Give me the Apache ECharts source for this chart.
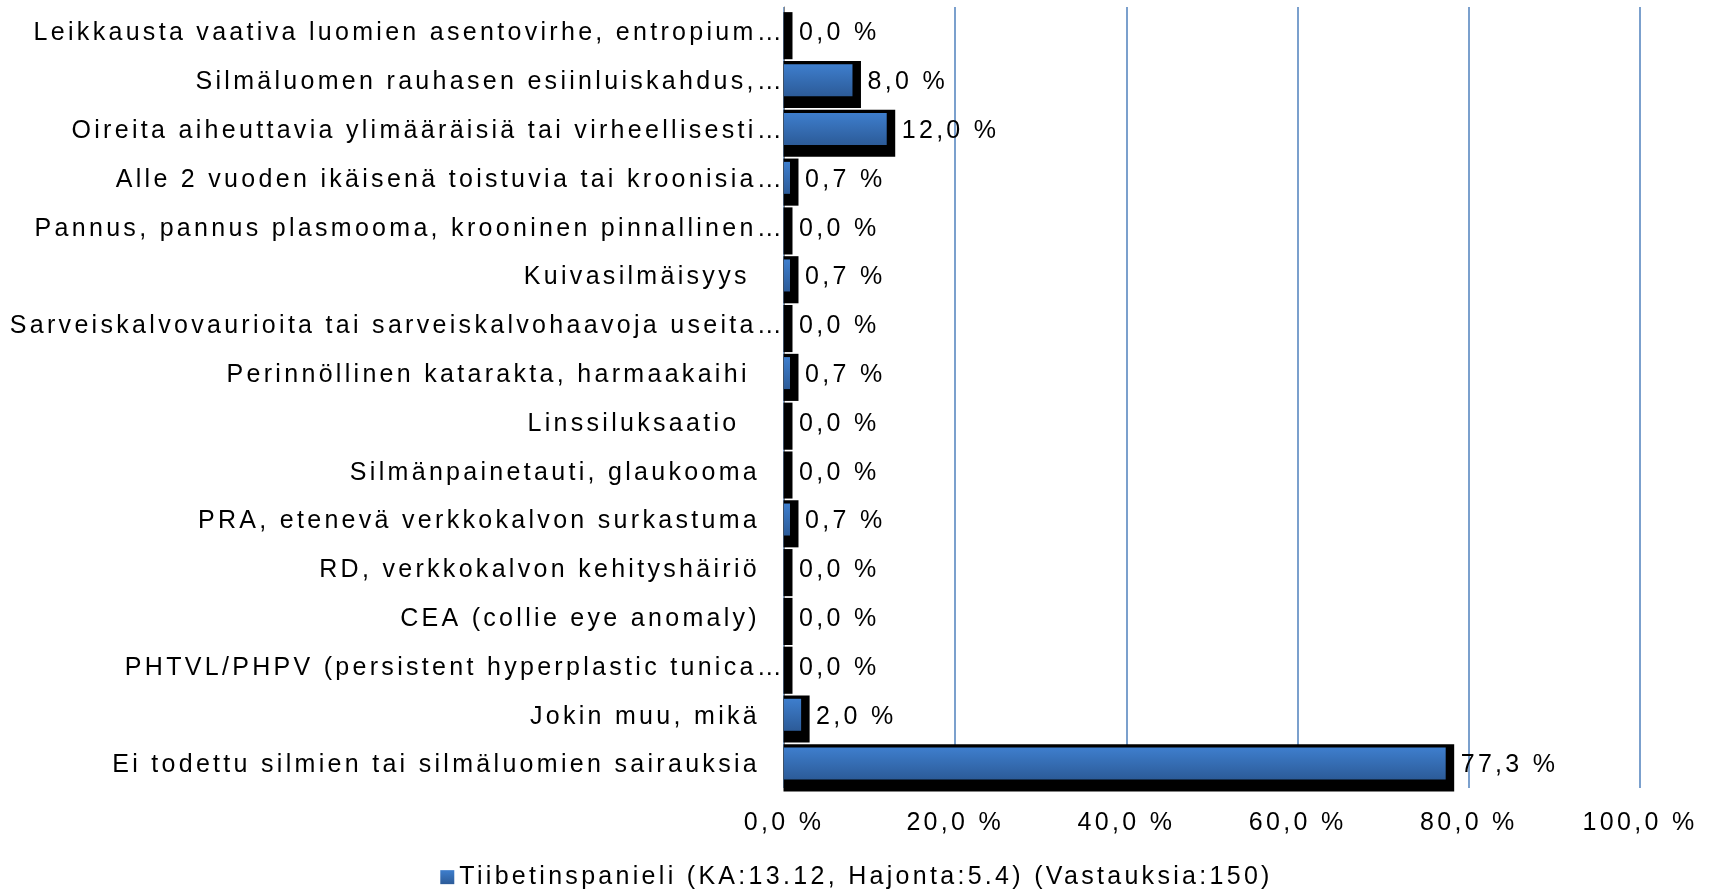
<!DOCTYPE html>
<html>
<head>
<meta charset="utf-8">
<script src="https://cdn.jsdelivr.net/npm/echarts@6/dist/echarts.min.js"></script>
<style>
html,body{margin:0;padding:0;background:#fff;}
#chart{width:1713px;height:889px;}
</style>
</head>
<body>
<div id="chart"></div>
<script>
// ---- data ----
const categories = [
  "Leikkausta vaativa luomien asentovirhe, entropium…",
  "Silmäluomen rauhasen esiinluiskahdus,…",
  "Oireita aiheuttavia ylimääräisiä tai virheellisesti…",
  "Alle 2 vuoden ikäisenä toistuvia tai kroonisia…",
  "Pannus, pannus plasmooma, krooninen pinnallinen…",
  "Kuivasilmäisyys ",
  "Sarveiskalvovaurioita tai sarveiskalvohaavoja useita…",
  "Perinnöllinen katarakta, harmaakaihi ",
  "Linssiluksaatio  ",
  "Silmänpainetauti, glaukooma",
  "PRA, etenevä verkkokalvon surkastuma",
  "RD, verkkokalvon kehityshäiriö",
  "CEA (collie eye anomaly)",
  "PHTVL/PHPV (persistent hyperplastic tunica…",
  "Jokin muu, mikä",
  "Ei todettu silmien tai silmäluomien sairauksia"
];
const values = [0.0, 8.0, 12.0, 0.7, 0.0, 0.7, 0.0, 0.7, 0.0, 0.0, 0.7, 0.0, 0.0, 0.0, 2.0, 77.3];
const tickLabels = ["0,0 %", "20,0 %", "40,0 %", "60,0 %", "80,0 %", "100,0 %"];
const seriesName = "Tiibetinspanieli (KA:13.12, Hajonta:5.4) (Vastauksia:150)";

// letter spacing for canvas text (measure and draw consistently)
(function(){
  const P = CanvasRenderingContext2D.prototype;
  const LS = '3.3px';
  const m = P.measureText, f = P.fillText, s = P.strokeText;
  P.measureText = function(t){ this.letterSpacing = LS; return m.call(this, t); };
  P.fillText = function(){ this.letterSpacing = LS; return f.apply(this, arguments); };
  P.strokeText = function(){ this.letterSpacing = LS; return s.apply(this, arguments); };
})();

const FONT = "'Liberation Sans', Arial, sans-serif";
const fmt = v => v.toFixed(1).replace('.', ',') + ' %';
const blue = new echarts.graphic.LinearGradient(0, 0, 0, 1, [
  {offset: 0, color: '#3e7ecd'},
  {offset: 1, color: '#2c5b98'}
]);

const chart = echarts.init(document.getElementById('chart'), null, {renderer: 'canvas'});
chart.setOption({
  animation: false,
  backgroundColor: '#fff',
  textStyle: {fontFamily: FONT},
  grid: {left: 784, right: 73, top: 7, bottom: 101, containLabel: false},
  legend: {
    data: [seriesName],
    top: 863, left: 'center', padding: 0,
    icon: 'rect', itemWidth: 14, itemHeight: 14, itemGap: 5,
    textStyle: {fontSize: 25, color: '#000', fontFamily: FONT}
  },
  xAxis: {
    type: 'value', min: 0, max: 100, interval: 20,
    axisLine: {show: false}, axisTick: {show: false},
    splitLine: {show: true, lineStyle: {color: '#4f81bd', width: 1.5}},
    axisLabel: {
      margin: 21, fontSize: 25, color: '#000', fontFamily: FONT,
      formatter: v => tickLabels[Math.round(v / 20)]
    }
  },
  yAxis: {
    type: 'category', data: categories, inverse: true,
    axisLine: {show: true, lineStyle: {color: '#868686', width: 1}},
    axisTick: {show: false},
    splitLine: {show: false},
    axisLabel: {
      margin: -1, fontSize: 25, color: '#000', fontFamily: FONT,
      formatter: name => name.endsWith('…') ? '{e|' + name + '}' : '{n|' + name + '}',
      rich: {
        e: {fontSize: 25, color: '#000', fontFamily: FONT, padding: [4, 0, 0, 0]},
        n: {fontSize: 25, color: '#000', fontFamily: FONT, padding: [4, 25, 0, 0]}
      }
    }
  },
  series: [
    {
      name: 'varjo',
      type: 'custom',
      z: 1,
      silent: true,
      encode: {x: 0, y: 1},
      data: values.map((v, i) => [v, i]),
      renderItem: function(params, api) {
        const v = api.value(0), idx = api.value(1);
        const s = api.coord([0, idx]);
        const e = api.coord([v, idx]);
        const band = api.size([0, 1])[1];
        return {
          type: 'rect',
          shape: {
            x: s[0] - 0.5,
            y: s[1] - band * 0.395,
            width: e[0] - s[0] + 9,
            height: band * 0.965
          },
          style: {fill: '#000'}
        };
      }
    },
    {
      name: seriesName,
      type: 'bar',
      z: 2,
      data: values,
      barWidth: 32,
      itemStyle: {color: blue},
      label: {
        show: true, position: 'right', distance: 15, offset: [0, 2],
        fontSize: 25, color: '#000', fontFamily: FONT,
        formatter: p => fmt(p.value)
      }
    }
  ]
});
</script>
</body>
</html>
